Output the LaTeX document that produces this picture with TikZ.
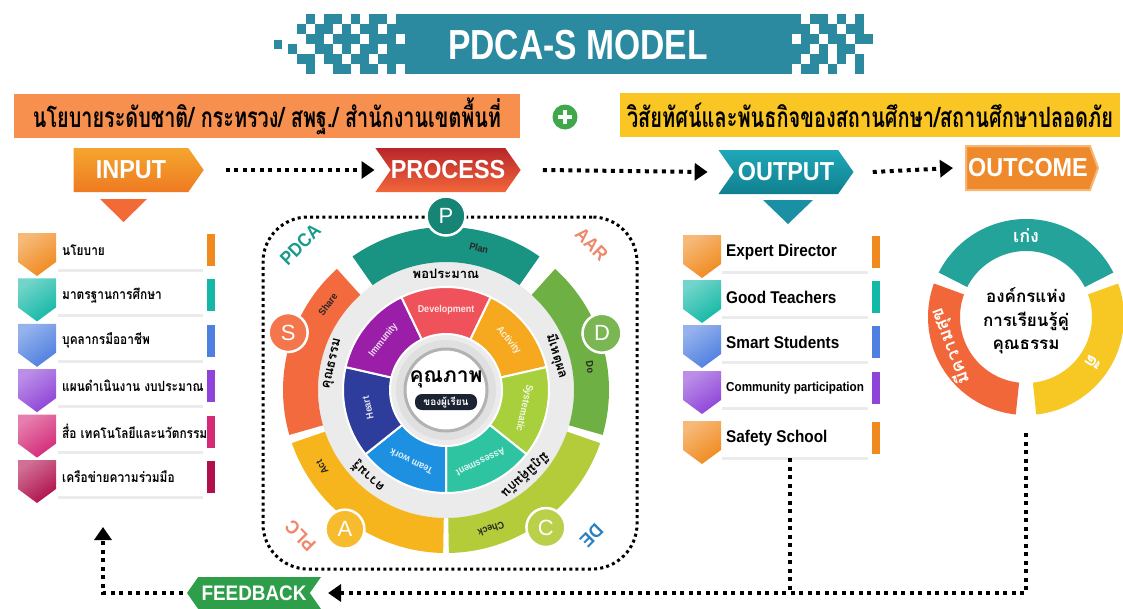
\documentclass[tikz,border=0pt]{standalone}
\usepackage{fontspec}
\usepackage{graphicx}
\usetikzlibrary{shapes.symbols,shapes.geometric,arrows.meta,calc}
\setmainfont{Liberation Sans}
\newfontfamily\thaifont[Script=Thai]{Loma}
\newfontfamily\thaicond[Script=Thai,FakeStretch=0.85]{Loma}
\newfontfamily\condfont[FakeStretch=0.8]{Liberation Sans}
\newfontfamily\semicond[FakeStretch=0.9]{Liberation Sans}

\definecolor{titleteal}{HTML}{2B8AA0}
\definecolor{banOrange}{HTML}{F7904F}
\definecolor{banYellow}{HTML}{F9C623}
\definecolor{plusGreen}{HTML}{3FA84A}
\definecolor{inA}{HTML}{F08A1E}
\definecolor{inB}{HTML}{14B8A6}
\definecolor{inC}{HTML}{4F7FE0}
\definecolor{inD}{HTML}{8E44D8}
\definecolor{inE}{HTML}{D42A78}
\definecolor{inF}{HTML}{B0104E}
\definecolor{cPlan}{HTML}{1A9482}
\definecolor{cDo}{HTML}{6EB043}
\definecolor{cCheck}{HTML}{B4CB3A}
\definecolor{cAct}{HTML}{F6B51C}
\definecolor{cShare}{HTML}{F36A3E}
\definecolor{sDev}{HTML}{F0525C}
\definecolor{sAct}{HTML}{F6A81F}
\definecolor{sSys}{HTML}{A8CF3C}
\definecolor{sAss}{HTML}{2EC4A2}
\definecolor{sTeam}{HTML}{1D90E2}
\definecolor{sHeart}{HTML}{2E3C9C}
\definecolor{sImm}{HTML}{9B1EA8}
\definecolor{wheelGray}{HTML}{EBEBEB}
\definecolor{navy}{HTML}{1C2433}
\definecolor{ocTeal}{HTML}{23A39A}
\definecolor{ocOrange}{HTML}{F2673A}
\definecolor{ocYellow}{HTML}{F7C824}
\definecolor{fbGreen}{HTML}{2E9E4A}
\definecolor{lblTeal}{HTML}{1A9A8A}
\definecolor{lblSalmon}{HTML}{F0866A}
\definecolor{lblBlue}{HTML}{2A80C0}
\definecolor{inTopA}{HTML}{F5A62E}
\definecolor{inBotA}{HTML}{EE7A22}
\definecolor{prTop}{HTML}{B8262B}
\definecolor{prBot}{HTML}{F2663A}
\definecolor{ouTop}{HTML}{1FA7B8}
\definecolor{ouBot}{HTML}{10808F}
\definecolor{ocBan}{HTML}{EF8A2C}
\definecolor{ocBanEdge}{HTML}{F8B676}
\definecolor{triOrange}{HTML}{F26B36}
\definecolor{triTeal}{HTML}{1B8FA3}

\newcommand{\annsec}[5]{\path[#1] (#2:#4) arc[start angle=#2, end angle=#3, radius=#4] -- (#3:#5) arc[start angle=#3, end angle=#2, radius=#5] -- cycle;}

\begin{document}
\begin{tikzpicture}[x=1pt,y=-1pt,
  dotline/.style={line width=4pt, dash pattern=on 4pt off 4.5pt},
  dotarrow/.style={dotline, -{Triangle[length=13pt,width=17pt]}},
  banner/.style={signal, minimum height=44pt, inner sep=0pt, text=white, font=\semicond\bfseries\fontsize{26}{26}\selectfont, signal pointer angle=110},
  rowtxt/.style={anchor=west, inner sep=0pt, font=\thaicond\bfseries\fontsize{14}{14}\selectfont},
  seglbl/.style={text=white, font=\semicond\bfseries\fontsize{10}{10}\selectfont, inner sep=0pt},
  ringlbl/.style={font=\thaifont\bfseries\fontsize{13}{13}\selectfont, inner sep=0pt},
  arclbl/.style={text=black!85, font=\semicond\bfseries\fontsize{10}{10}\selectfont, inner sep=0pt},
  letter/.style={circle, draw=white, line width=2.5pt, minimum size=39pt, inner sep=0pt, text=white, font=\fontsize{22}{22}\selectfont},
  cornerlbl/.style={font=\semicond\bfseries\fontsize{19}{19}\selectfont, inner sep=0pt},
  octxt/.style={inner sep=0pt, font=\thaifont\bfseries\fontsize{17}{17}\selectfont},
  oclbl/.style={inner sep=0pt, text=white, font=\thaifont\bfseries\fontsize{18}{18}\selectfont},
]
\useasboundingbox (0,0) rectangle (1123,608);
\fill[white] (0,0) rectangle (1123,608);
\clip (0,0) rectangle (1123,608);

% ---------- title ----------
\fill[titleteal] (405,14) rectangle (792,74);
\fill[titleteal] (274,40) rectangle (282,49);
\foreach \row [count=\j from 0] in {{0,0,1,0,1,1,0,1,0,1,1,0,1},{0,1,0,1,1,0,1,0,1,1,0,1,1},{0,0,1,1,0,1,1,1,0,1,1,1,0},{1,0,0,1,1,0,1,0,1,1,0,1,1},{0,1,1,0,1,1,0,1,1,0,1,1,1},{0,0,1,0,0,1,1,0,1,1,0,1,0}}{
  \foreach \v [count=\i from 0] in \row {
    \ifnum\v=1 \fill[titleteal] (288+9*\i,14+10*\j) rectangle ++(9,10);\fi
  }
}
\foreach \row [count=\j from 0] in {{1,0,1,1,0,1,0,1,0},{1,1,0,1,1,0,1,1,0},{0,1,1,0,1,1,0,1,1},{1,1,0,1,0,1,1,0,0},{1,0,1,1,0,1,0,1,0},{0,1,1,0,1,0,0,1,0}}{
  \foreach \v [count=\i from 0] in \row {
    \ifnum\v=1 \fill[titleteal] (792+9*\i,14+10*\j) rectangle ++(9,10);\fi
  }
}
\node[text=white, font=\condfont\bfseries\fontsize{42}{42}\selectfont, inner sep=0pt] (title) at (578,45) {PDCA-S MODEL};

% ---------- banners ----------
\node[fill=banOrange, minimum width=506pt, minimum height=44pt, inner sep=0pt] (policy) at (267,116)
  {\resizebox{468pt}{\height}{\thaifont\bfseries\fontsize{28}{28}\selectfont นโยบายระดับชาติ/ กระทรวง/ สพฐ./ สำนักงานเขตพื้นที่}};
\node[circle, fill=plusGreen, minimum size=25pt, inner sep=0pt,
  path picture={\fill[white] ($(path picture bounding box.center)+(-7,-2)$) rectangle ($(path picture bounding box.center)+(7,2)$);
                \fill[white] ($(path picture bounding box.center)+(-2,-7)$) rectangle ($(path picture bounding box.center)+(2,7)$);}] (plus) at (565,117) {};
\node[fill=banYellow, minimum width=500pt, minimum height=44pt, inner sep=0pt] (vision) at (870,115)
  {\resizebox{486pt}{\height}{\thaifont\bfseries\fontsize{28}{28}\selectfont วิสัยทัศน์และพันธกิจของสถานศึกษา/สถานศึกษาปลอดภัย}};

% ---------- flow banners ----------
\node[banner, signal to=east, top color=inTopA, bottom color=inBotA, minimum width=130pt] (input) at (131,170) {INPUT};
\node[banner, signal from=west, signal to=east, top color=prTop, bottom color=prBot, minimum width=140pt] (process) at (448,170) {PROCESS};
\node[banner, signal from=west, signal to=east, top color=ouTop, bottom color=ouBot, minimum width=135pt] (output) at (786,172) {OUTPUT};
\node[banner, signal to=east, fill=ocBan, draw=ocBanEdge, line width=2pt, signal pointer angle=140, minimum width=132pt] (outcome) at (1028,168) {OUTCOME};

\draw[dotarrow] ([xshift=22pt]input.east) -- ([xshift=-16pt]process.west);
\draw[dotarrow] ([xshift=22pt]process.east) -- ([xshift=-26pt]output.west);
\draw[dotarrow] ([xshift=19pt]output.east) -- ([xshift=-12pt]outcome.west);

\fill[triOrange] (100,199) -- (147,199) -- (123.5,222) -- cycle;
\fill[triTeal] (763,200) -- (813,200) -- (788,224) -- cycle;

% ---------- input list ----------
\foreach \txt/\col [count=\k] in {นโยบาย/inA, มาตรฐานการศึกษา/inB, บุคลากรมืออาชีพ/inC, แผนดำเนินงาน งบประมาณ/inD, สื่อ เทคโนโลยีและนวัตกรรม/inE, เครือข่ายความร่วมมือ/inF}{
  \pgfmathsetmacro\yy{250+45.4*(\k-1)}
  \fill[black!8] (58,\yy+19) rectangle (203,\yy+22);
  \shade[top color=\col!60!white, bottom color=\col, shading angle=35] (18,\yy-17) -- (56,\yy-17) -- (56,\yy+12) -- (37,\yy+26) -- (18,\yy+12) -- cycle;
  \fill[\col] (207,\yy-16) rectangle (215,\yy+16);
  \node[rowtxt] (in\k) at (62,\yy) {\txt};
}

% ---------- output list ----------
\foreach \txt/\col/\yy/\fs [count=\k] in {Expert Director/inA/252/17, Good Teachers/inB/297/17, Smart Students/inC/342/17, Community participation/inD/388/13, Safety School/inA/438/17}{
  \fill[black!8] (722,\yy+19) rectangle (868,\yy+22);
  \shade[top color=\col!60!white, bottom color=\col, shading angle=35] (683,\yy-17) -- (721,\yy-17) -- (721,\yy+12) -- (702,\yy+26) -- (683,\yy+12) -- cycle;
  \fill[\col] (872,\yy-16) rectangle (880,\yy+16);
  \node[anchor=west, inner sep=0pt, font=\semicond\bfseries\fontsize{\fs}{\fs}\selectfont] (out\k) at (726,\yy) {\txt};
}

% ---------- wheel ----------
\node[draw=black, line width=3pt, dash pattern=on 3pt off 3.2pt, rounded corners=45pt, minimum width=374pt, minimum height=352pt] (frame) at (450,393) {};

\begin{scope}[shift={(446pt,-390pt)}, x=1pt, y=1pt]
  \fill[wheelGray] (0,0) circle (128);
  \annsec{fill=cPlan}{55}{125}{128}{163}
  \annsec{fill=cShare}{132}{196}{128}{163}
  \annsec{fill=cAct}{199}{269}{128}{163}
  \annsec{fill=cCheck}{271}{341}{128}{163}
  \annsec{fill=cDo}{-16}{48}{128}{163}
  \foreach \a/\c/\t [count=\k] in {90/sDev/Development, 38.57/sAct/Activity, -12.86/sSys/Systematic, -64.29/sAss/Assessment, -115.71/sTeam/Team work, -167.14/sHeart/Heart, 141.43/sImm/Immunity}{
    \pgfmathsetmacro\aa{\a-25.71}
    \pgfmathsetmacro\ab{\a+25.71}
    \annsec{fill=\c, draw=white, line width=2pt}{\aa}{\ab}{103}{56}
    \node[seglbl, rotate=\a-90, opacity=0.85] (seg\k) at (\a:80) {\t};
  }
  \fill[black!12] (0,0) circle (50);
  \draw[black!30, line width=3pt, fill=white] (0,0) circle (41);
  \node[inner sep=0pt, font=\thaifont\bfseries\fontsize{21}{21}\selectfont] (quality) at (0,11) {คุณภาพ};
  \node[fill=navy, rounded corners=7pt, text=white, font=\thaifont\bfseries\fontsize{10}{10}\selectfont, minimum width=62pt, minimum height=16pt, inner sep=1pt] (learner) at (0,-12) {ของผู้เรียน};

  % gray ring labels
  \node[ringlbl, rotate=0] (r1) at (90:116) {พอประมาณ};
  \node[ringlbl, rotate=-73] (r2) at (17:116) {มีเหตุผล};
  \node[ringlbl, rotate=-137] (r3) at (-47:116) {มีภูมิคุ้มกัน};
  \node[ringlbl, rotate=138] (r4) at (228:116) {ความรู้};
  \node[ringlbl, rotate=77] (r5) at (167:116) {คุณธรรม};

  % arc labels
  \node[arclbl, rotate=-13] (lPlan) at (77:146) {Plan};
  \node[arclbl, rotate=-81] (lDo) at (9:146) {Do};
  \node[arclbl, rotate=-162] (lCheck) at (-72:146) {Check};
  \node[arclbl, rotate=122] (lAct) at (212:146) {Act};
  \node[arclbl, rotate=54] (lShare) at (144:146) {Share};

  % letter circles
  \node[letter, fill=cPlan!90!black] (P) at (90:174) {P};
  \node[letter, fill=cDo!92!white] (D) at (20:166) {D};
  \node[letter, fill=cCheck!92!white] (C) at (-54:170) {C};
  \node[letter, fill=cAct!92!white] (A) at (234:172) {A};
  \node[letter, fill=cShare!92!white] (S) at (160:168) {S};

  % corner labels
  \node[cornerlbl, text=lblTeal, rotate=45] (pdca) at (135:206) {PDCA};
  \node[cornerlbl, text=lblSalmon, rotate=-45] (aar) at (45:206) {AAR};
  \node[cornerlbl, text=lblBlue, rotate=-135] (de) at (-45:206) {DE};
  \node[cornerlbl, text=lblSalmon, rotate=135] (plc) at (225:206) {PLC};
\end{scope}

% ---------- outcome ring ----------
\begin{scope}[shift={(1026pt,-317pt)}, x=1pt, y=1pt]
  \annsec{fill=ocTeal}{27}{153}{98}{66}
  \annsec{fill=ocOrange}{160}{264}{98}{66}
  \annsec{fill=ocYellow}{-84}{20}{98}{66}
  \node[oclbl] (keng) at (90:81) {เก่ง};
  \node[oclbl, rotate=-124] (dee) at (-34:81) {ดี};
  \node[oclbl, rotate=111] (suk) at (201:81) {มีความสุข};
\end{scope}
\node[circle, minimum size=196pt, inner sep=0pt] (outRing) at (1026,317) {};
\node[octxt] (oc1) at (1026,295) {องค์กรแห่ง};
\node[octxt] (oc2) at (1026,321) {การเรียนรู้คู่};
\node[octxt] (oc3) at (1026,347) {คุณธรรม};

% ---------- feedback ----------
\node[banner, signal to=west, signal from=east, fill=fbGreen, minimum width=134pt, minimum height=32pt, font=\semicond\bfseries\fontsize{21}{21}\selectfont] (feedback) at (254,593) {FEEDBACK};
\coordinate (outCol) at (790,458);
\coordinate (fbUp) at (103,527);
\draw[dotline, -{Triangle[length=13pt,width=17pt]}, shorten >=18pt] ($(outRing.south)+(0,18)$) |- (feedback.east);
\draw[dotline] (outCol) -- (outCol |- feedback.east);
\draw[dotarrow, shorten <=4pt] (feedback.west) -| (fbUp);
\end{tikzpicture}
\end{document}
